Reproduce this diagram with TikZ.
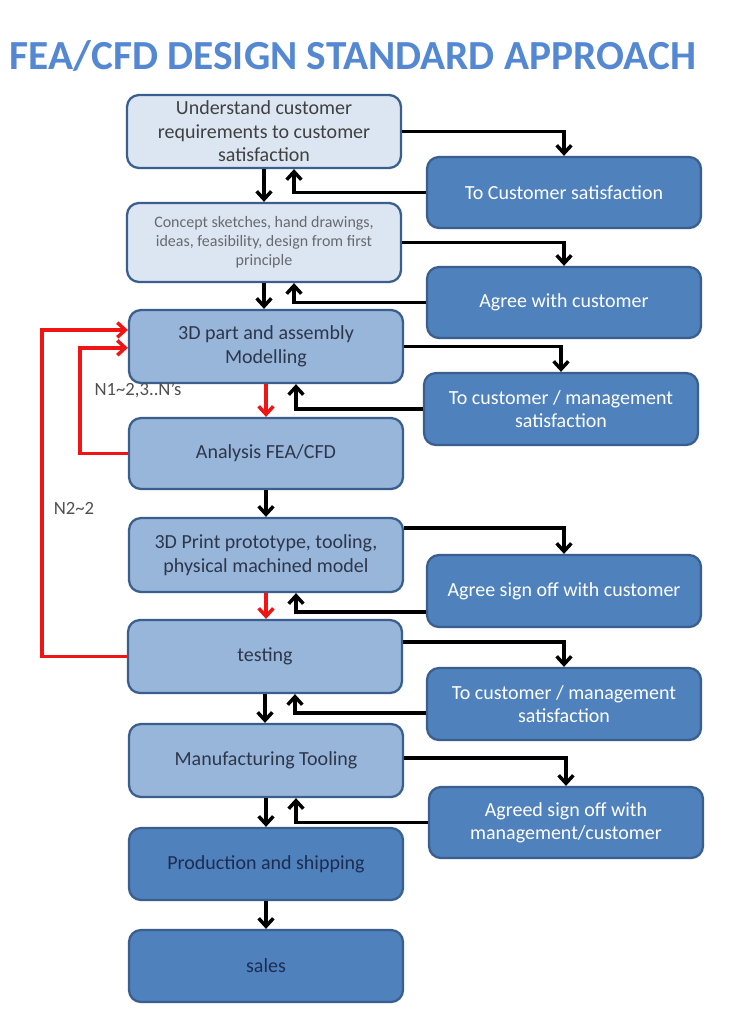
\documentclass[tikz,border=0pt]{standalone}
\usepackage{fontspec}
\setmainfont{Carlito}
\usetikzlibrary{arrows.meta,calc}
\definecolor{titleblue}{RGB}{84,136,210}
\definecolor{lightfill}{RGB}{220,230,242}
\definecolor{midfill}{RGB}{152,181,218}
\definecolor{darkfill}{RGB}{79,129,189}
\definecolor{edgeblue}{RGB}{58,95,143}
\definecolor{txtgray}{RGB}{64,64,64}
\definecolor{conceptgray}{RGB}{105,105,110}
\definecolor{midtext}{RGB}{45,55,75}
\definecolor{darktext}{RGB}{28,45,80}
\definecolor{lblgray}{RGB}{80,80,80}
\definecolor{redline}{RGB}{240,20,20}
\begin{document}
\begin{tikzpicture}[x=0.75pt,y=-0.75pt,
 box/.style={draw=edgeblue, line width=1.7pt, rounded corners=9pt, minimum width=205.5pt, align=center, font=\fontsize{15}{17.6}\selectfont, inner sep=2pt},
 lbox/.style={box, fill=lightfill, text=txtgray},
 mbox/.style={box, fill=midfill, text=midtext},
 dbox/.style={box, fill=darkfill, text=darktext},
 rbox/.style={box, fill=darkfill, text=white},
 arr/.style={line width=2.6pt, -{Straight Barb[length=6pt,width=11pt]}},
 redarr/.style={arr, draw=redline},
 lbl/.style={font=\fontsize{14}{16}\selectfont, text=lblgray}
]
\useasboundingbox[fill=white] (0,0) rectangle (749,1024);

\node[font=\fontsize{31}{36}\selectfont\bfseries, text=titleblue] (title) at (353,56) {FEA/CFD DESIGN STANDARD APPROACH};

% left column
\node[lbox, minimum height=54.75pt] (u) at (264,131.5) {Understand customer\\requirements to customer\\satisfaction};
\node[lbox, minimum height=59.25pt, font=\fontsize{12}{14.3}\selectfont, text=conceptgray] (c) at (264,242.5) {Concept sketches, hand drawings,\\ideas, feasibility, design from first\\principle};
\node[mbox, minimum height=54.75pt] (m) at (266,346.5) {3D part and assembly\\Modelling};
\node[mbox, minimum height=53.25pt] (an) at (266,453.5) {Analysis FEA/CFD};
\node[mbox, minimum height=55.5pt] (p) at (266,555) {3D Print prototype, tooling,\\physical machined model};
\node[mbox, minimum height=54.75pt] (t) at (265,656.5) {testing};
\node[mbox, minimum height=54.75pt] (mt) at (266,760.5) {Manufacturing Tooling};
\node[dbox, minimum height=54pt] (ps) at (266,864) {Production and shipping};
\node[dbox, minimum height=54pt] (s) at (266,966) {sales};

% right column
\node[rbox, minimum height=53.25pt] (A) at (564,192.5) {To Customer satisfaction};
\node[rbox, minimum height=53.25pt] (B) at (564,302.5) {Agree with customer};
\node[rbox, minimum height=54pt] (C) at (561,409) {To customer / management\\satisfaction};
\node[rbox, minimum height=54pt] (D) at (564,591) {Agree sign off with customer};
\node[rbox, minimum height=54pt] (E) at (564,704) {To customer / management\\satisfaction};
\node[rbox, minimum height=53.25pt] (F) at (566,822.5) {Agreed sign off with\\management/customer};

% labels
\node[lbl] (n1) at (138,390) {N1\textasciitilde 2,3..N's};
\node[lbl] (n2) at (74,508) {N2\textasciitilde 2};

% down arrows
\draw[arr] (u.south) -- (u.south |- c.north);
\draw[arr] (c.south) -- (c.south |- m.north);
\draw[redarr] (m.south) -- (m.south |- an.north);
\draw[arr] (an.south) -- (an.south |- p.north);
\draw[redarr] (p.south) -- (p.south |- t.north);
\draw[arr] (t.south) -- (t.south |- mt.north);
\draw[arr] (mt.south) -- (mt.south |- ps.north);
\draw[arr] (ps.south) -- (ps.south |- s.north);

% out to right boxes
\draw[arr] (u.east) -| (A.north);
\draw[arr] (c.east) -| (B.north);
\draw[arr] (m.east) -| (C.north);
\draw[arr] ([yshift=20.25pt]p.east) -| (D.north);
\draw[arr] ([yshift=11pt]t.east) -| (E.north);
\draw[arr] ([yshift=2pt]mt.east) -| (F.north);

% returns
\draw[arr] (A.west) -| ([xshift=22.5pt]u.south);
\draw[arr] (B.west) -| ([xshift=22.5pt]c.south);
\draw[arr] (C.west) -| ([xshift=22.5pt]m.south);
\draw[arr] ([yshift=-15.75pt]D.west) -| ([xshift=22.5pt]p.south);
\draw[arr] ([yshift=-6.75pt]E.west) -| ([xshift=22.5pt]t.south);
\draw[arr] (F.west) -| ([xshift=22.5pt]mt.south);

% red loops
\coordinate (l1) at (80,453);
\coordinate (l2) at (42,656);
\draw[redarr] (an.west) -- (an.west -| l1) |- ([yshift=-1pt]m.west);
\draw[redarr] (t.west) -- (t.west -| l2) |- ([yshift=12.4pt]m.west);
\end{tikzpicture}
\end{document}
